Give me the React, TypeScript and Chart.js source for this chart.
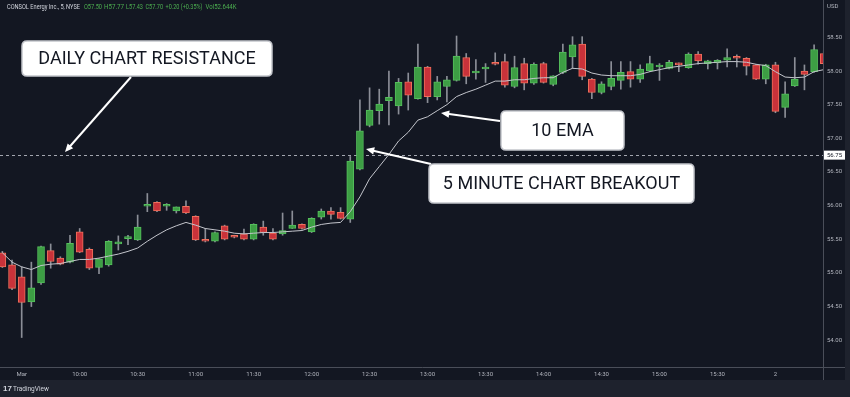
import React, { useEffect, useRef } from "react";
import { Chart, registerables } from "chart.js";
Chart.register(...registerables);

// bar index: 0 = Mar 1 09:30 (5-minute bars); negatives = previous session
const barIndex = [
  -2, -1, 0, 1, 2, 3, 4, 5, 6, 7, 8, 9, 10, 11, 12, 13, 14, 15, 16, 17, 18, 19, 20,
  21, 22, 23, 24, 25, 26, 27, 28, 29, 30, 31, 32, 33, 34, 35, 36, 37, 38, 39, 40,
  41, 42, 43, 44, 45, 46, 47, 48, 49, 50, 51, 52, 53, 54, 55, 56, 57, 58, 59, 60,
  61, 62, 63, 64, 65, 66, 67, 68, 69, 70, 71, 72, 73, 74, 75, 76, 77, 78, 79, 80,
  81, 82, 83,
];
const opens = [
  55.30, 55.12, 54.94, 54.57, 54.85, 55.33, 55.22, 55.16, 55.61, 55.35, 55.08, 55.12, 55.43, 55.51, 55.49, 55.99, 56.05, 55.99, 55.92, 55.99, 55.84, 55.48, 55.47,
  55.70, 55.54, 55.58, 55.50, 55.68, 55.59, 55.58, 55.66, 55.72, 55.61, 55.83, 55.92, 55.90, 55.80, 56.54, 57.19, 57.41, 57.56, 57.48, 57.84,
  57.59, 58.06, 57.62, 57.77, 57.86, 58.20, 57.97, 58.03, 58.12, 58.14, 57.77, 58.11, 57.82, 58.11, 57.80, 57.98, 58.21, 58.40, 57.88, 57.68,
  57.77, 57.86, 57.99, 57.88, 58.00, 58.06, 58.04, 58.11, 58.05, 58.25, 58.11, 58.12, 58.16, 58.21, 58.19, 58.09, 57.88, 58.09, 57.46, 57.78,
  58.00, 57.99, 58.26,
];
const highs = [
  55.32, 55.19, 55.09, 55.16, 55.40, 55.43, 55.24, 55.56, 55.66, 55.37, 55.21, 55.48, 55.55, 55.56, 55.86, 56.18, 56.06, 56.03, 55.98, 56.07, 55.85, 55.66, 55.61,
  55.71, 55.56, 55.65, 55.73, 55.77, 55.66, 55.89, 55.92, 55.73, 55.82, 55.95, 55.97, 55.97, 56.73, 57.57, 57.75, 57.73, 58.00, 57.89, 57.97,
  58.40, 58.07, 57.92, 57.92, 58.52, 58.26, 58.17, 58.11, 58.27, 58.25, 58.22, 58.19, 58.12, 58.13, 57.93, 58.40, 58.51, 58.51, 57.89, 57.84,
  58.14, 58.14, 58.14, 58.09, 58.22, 58.11, 58.16, 58.12, 58.27, 58.29, 58.16, 58.17, 58.33, 58.24, 58.20, 58.10, 58.10, 58.13, 57.84, 58.20,
  58.09, 58.39, 58.30,
];
const lows = [
  55.08, 54.75, 54.04, 54.50, 54.83, 55.07, 55.12, 55.15, 55.30, 55.05, 54.99, 55.10, 55.34, 55.42, 55.48, 55.91, 55.91, 55.93, 55.89, 55.88, 55.48, 55.46, 55.46,
  55.49, 55.52, 55.49, 55.49, 55.56, 55.49, 55.56, 55.66, 55.65, 55.60, 55.80, 55.80, 55.80, 55.75, 56.53, 57.17, 57.21, 57.20, 57.36, 57.42,
  57.58, 57.53, 57.57, 57.54, 57.85, 57.81, 57.88, 57.83, 58.09, 57.76, 57.75, 57.72, 57.80, 57.82, 57.78, 57.96, 58.04, 57.87, 57.59, 57.66,
  57.72, 57.73, 57.76, 57.83, 57.99, 57.86, 58.03, 57.99, 58.04, 58.10, 58.03, 58.03, 58.06, 58.06, 57.94, 57.87, 57.81, 57.38, 57.31, 57.77,
  57.72, 57.98, 58.10,
];
const closes = [
  55.09, 54.77, 54.56, 54.78, 55.39, 55.17, 55.13, 55.44, 55.31, 55.07, 55.21, 55.47, 55.46, 55.52, 55.68, 56.02, 55.92, 56.01, 55.98, 55.89, 55.49, 55.47, 55.60,
  55.50, 55.53, 55.50, 55.72, 55.60, 55.50, 55.63, 55.71, 55.66, 55.81, 55.92, 55.87, 55.81, 56.66, 57.11, 57.42, 57.51, 57.61, 57.83, 57.64,
  58.06, 57.62, 57.84, 57.87, 58.22, 57.92, 57.99, 58.06, 58.10, 57.79, 58.05, 57.82, 58.10, 57.83, 57.93, 58.28, 58.39, 57.92, 57.68, 57.81,
  57.89, 57.98, 57.88, 58.03, 58.11, 58.08, 58.13, 58.09, 58.25, 58.15, 58.15, 58.16, 58.20, 58.19, 58.07, 57.88, 58.09, 57.40, 57.66, 57.88,
  57.95, 58.32, 58.11,
];
const ema10 = [
  55.30, 55.16, 55.09, 55.05, 55.11, 55.13, 55.14, 55.17, 55.20, 55.20, 55.22, 55.25, 55.28, 55.32, 55.37, 55.47, 55.56, 55.64, 55.70, 55.75, 55.71, 55.66, 55.64,
  55.62, 55.59, 55.58, 55.59, 55.60, 55.60, 55.61, 55.62, 55.63, 55.68, 55.72, 55.74, 55.75, 55.91, 56.13, 56.40, 56.58, 56.76, 56.96, 57.09,
  57.27, 57.32, 57.41, 57.50, 57.62, 57.68, 57.73, 57.79, 57.85, 57.85, 57.87, 57.87, 57.89, 57.90, 57.90, 57.98, 58.04, 58.03, 57.97, 57.94,
  57.93, 57.93, 57.93, 57.95, 57.99, 58.02, 58.05, 58.07, 58.09, 58.11, 58.12, 58.13, 58.14, 58.14, 58.13, 58.10, 58.08, 57.99, 57.91, 57.90,
  57.91, 57.99, 58.02,
];

const timeTickBars = [0, 6, 12, 18, 24, 30, 36, 42, 48, 54, 60, 66, 72, 78];
const timeTickLabels = ["Mar", "10:00", "10:30", "11:00", "11:30", "12:00", "12:30", "13:00", "13:30", "14:00", "14:30", "15:00", "15:30", "2"];
const priceTicks = [54.0, 54.5, 55.0, 55.5, 56.0, 56.5, 57.0, 57.5, 58.0, 58.5];
const resistance = 56.75;

const headerName = "CONSOL Energy Inc., 5, NYSE";
const headerValues = ["O57.50", "H57.77", "L57.43", "C57.70", "+0.20 (+0.35%)", "Vol52.644K"];

const W = 850;
const H = 397;
const BG = "#131722";
const BG2 = "#1e222d";
const AXIS_TEXT = "#b2b5be";
const UP_FILL = "#3d9e44";
const UP_BORDER = "#55bf5c";
const DN_FILL = "#c9323a";
const DN_BORDER = "#f0705c";

function roundRectPath(ctx: CanvasRenderingContext2D, x: number, y: number, w: number, h: number, r: number) {
  ctx.beginPath();
  ctx.moveTo(x + r, y);
  ctx.lineTo(x + w - r, y);
  ctx.quadraticCurveTo(x + w, y, x + w, y + r);
  ctx.lineTo(x + w, y + h - r);
  ctx.quadraticCurveTo(x + w, y + h, x + w - r, y + h);
  ctx.lineTo(x + r, y + h);
  ctx.quadraticCurveTo(x, y + h, x, y + h - r);
  ctx.lineTo(x, y + r);
  ctx.quadraticCurveTo(x, y, x + r, y);
  ctx.closePath();
}

function drawArrow(ctx: CanvasRenderingContext2D, x1: number, y1: number, x2: number, y2: number) {
  const ang = Math.atan2(y2 - y1, x2 - x1);
  const head = 9;
  ctx.save();
  ctx.strokeStyle = "#ffffff";
  ctx.fillStyle = "#ffffff";
  ctx.lineWidth = 2;
  ctx.beginPath();
  ctx.moveTo(x1, y1);
  ctx.lineTo(x2 - Math.cos(ang) * head * 0.7, y2 - Math.sin(ang) * head * 0.7);
  ctx.stroke();
  ctx.beginPath();
  ctx.moveTo(x2, y2);
  ctx.lineTo(x2 - head * Math.cos(ang - 0.42), y2 - head * Math.sin(ang - 0.42));
  ctx.lineTo(x2 - head * Math.cos(ang + 0.42), y2 - head * Math.sin(ang + 0.42));
  ctx.closePath();
  ctx.fill();
  ctx.restore();
}

function drawBox(ctx: CanvasRenderingContext2D, x: number, y: number, w: number, h: number, text: string, textW: number) {
  ctx.save();
  roundRectPath(ctx, x, y, w, h, 5);
  ctx.fillStyle = "#ffffff";
  ctx.fill();
  ctx.strokeStyle = "#c4c6cc";
  ctx.lineWidth = 1.5;
  ctx.stroke();
  ctx.fillStyle = "#131722";
  ctx.font = "18px Roboto, 'Liberation Sans', sans-serif";
  ctx.textAlign = "center";
  ctx.textBaseline = "middle";
  ctx.fillText(text, x + w / 2, y + h / 2 + 1, textW);
  ctx.restore();
}

const decorPlugin = {
  id: "tvDecor",
  beforeDraw(chart: any) {
    const ctx = chart.ctx as CanvasRenderingContext2D;
    ctx.save();
    ctx.fillStyle = BG;
    ctx.fillRect(0, 0, W, H);
    ctx.fillStyle = BG2;
    ctx.fillRect(0, 380, W, H - 380);
    ctx.fillRect(845, 0, W - 845, H);
    ctx.restore();
  },
  beforeDatasetsDraw(chart: any) {
    const ctx = chart.ctx as CanvasRenderingContext2D;
    const area = chart.chartArea;
    const y = Math.round(chart.scales.y.getPixelForValue(resistance)) + 0.5;
    ctx.save();
    ctx.strokeStyle = "#a3a6af";
    ctx.lineWidth = 1;
    ctx.setLineDash([3, 3]);
    ctx.beginPath();
    ctx.moveTo(area.left, y);
    ctx.lineTo(area.right, y);
    ctx.stroke();
    ctx.restore();
  },
  afterDraw(chart: any) {
    const ctx = chart.ctx as CanvasRenderingContext2D;
    const area = chart.chartArea;
    const xs = chart.scales.x;
    const ys = chart.scales.y;
    ctx.save();
    // axis separators
    ctx.strokeStyle = "#4a4e59";
    ctx.lineWidth = 1;
    ctx.beginPath();
    ctx.moveTo(area.right + 0.5, 0);
    ctx.lineTo(area.right + 0.5, 380);
    ctx.moveTo(0, area.bottom + 0.5);
    ctx.lineTo(845, area.bottom + 0.5);
    ctx.stroke();

    // price labels
    ctx.fillStyle = AXIS_TEXT;
    ctx.font = "6px Roboto, sans-serif";
    ctx.textAlign = "left";
    ctx.textBaseline = "middle";
    ctx.fillText("USD", area.right + 4, 6);
    priceTicks.forEach((p) => {
      ctx.fillText(p.toFixed(2), area.right + 4, ys.getPixelForValue(p));
    });

    // resistance price tag
    const ry = ys.getPixelForValue(resistance);
    ctx.fillStyle = "#ffffff";
    ctx.fillRect(area.right + 1, ry - 4.5, 21, 9);
    ctx.fillStyle = "#131722";
    ctx.fillText(resistance.toFixed(2), area.right + 4, ry);

    // time labels
    ctx.fillStyle = AXIS_TEXT;
    ctx.textAlign = "center";
    timeTickBars.forEach((b, k) => {
      ctx.fillText(timeTickLabels[k], xs.getPixelForValue(b), 374);
    });

    // header
    ctx.textAlign = "left";
    ctx.font = "7.5px Roboto, sans-serif";
    ctx.fillStyle = "#d1d4dc";
    ctx.fillText(headerName, 7, 7, 73);
    const hx = [84, 104, 126, 145.5, 165.5, 205.5];
    const hw = [18, 20, 17, 17.5, 37, 31];
    ctx.fillStyle = "#4caf50";
    headerValues.forEach((t, k) => ctx.fillText(t, hx[k], 7, hw[k]));

    // TradingView logo
    ctx.fillStyle = "#d1d4dc";
    ctx.font = "bold 8px 'Liberation Sans', sans-serif";
    ctx.fillText("17", 3, 389);
    ctx.font = "6.5px Roboto, sans-serif";
    ctx.fillText("TradingView", 13, 389);

    // annotations
    drawArrow(ctx, 131, 77, 65, 152);
    drawBox(ctx, 22, 41, 250, 35, "DAILY CHART RESISTANCE", 218);
    drawArrow(ctx, 500, 121, 441, 113);
    drawBox(ctx, 501, 111, 123, 39, "10 EMA", 67);
    drawArrow(ctx, 431, 164, 366, 149);
    drawBox(ctx, 429, 164, 265, 39, "5 MINUTE CHART BREAKOUT", 242);
    ctx.restore();
  },
};

export default function App() {
  const ref = useRef<HTMLCanvasElement | null>(null);
  useEffect(() => {
    if (!ref.current) return;
    const up = opens.map((o, k) => closes[k] >= o);
    const chart = new Chart(ref.current, {
      type: "bar",
      data: {
        datasets: [
          {
            type: "line",
            label: "EMA 10",
            data: ema10.map((v, k) => ({ x: barIndex[k], y: v })),
            borderColor: "#c3c5cc",
            borderWidth: 1,
            pointRadius: 0,
            tension: 0,
            order: 0,
          } as any,
          {
            type: "bar",
            label: "body",
            data: opens.map((o, k) => ({ x: barIndex[k], y: [o, closes[k]] })),
            backgroundColor: up.map((u) => (u ? UP_FILL : DN_FILL)),
            borderColor: up.map((u) => (u ? UP_BORDER : DN_BORDER)),
            borderWidth: 1,
            borderSkipped: false,
            barThickness: 7,
            minBarLength: 2,
            grouped: false,
            order: 1,
          } as any,
          {
            type: "bar",
            label: "wick",
            data: lows.map((l, k) => ({ x: barIndex[k], y: [l, highs[k]] })),
            backgroundColor: "#8b8e97",
            borderWidth: 0,
            barThickness: 1,
            grouped: false,
            order: 2,
          } as any,
        ],
      },
      options: {
        animation: false,
        responsive: false,
        maintainAspectRatio: false,
        events: [],
        layout: { padding: { left: 0, right: 27, top: 0, bottom: 30 } },
        plugins: { legend: { display: false }, tooltip: { enabled: false } },
        scales: {
          x: { type: "linear", min: -2.245, max: 82.92, offset: false, display: false },
          y: { type: "linear", min: 53.602, max: 59.055, display: false },
        },
      },
      plugins: [decorPlugin],
    } as any);
    return () => chart.destroy();
  }, []);
  return (
    <div style={{ position: "absolute", left: 0, top: 0, width: W, height: H }}>
      <canvas ref={ref} width={W} height={H} style={{ width: W, height: H, display: "block" }} />
    </div>
  );
}
